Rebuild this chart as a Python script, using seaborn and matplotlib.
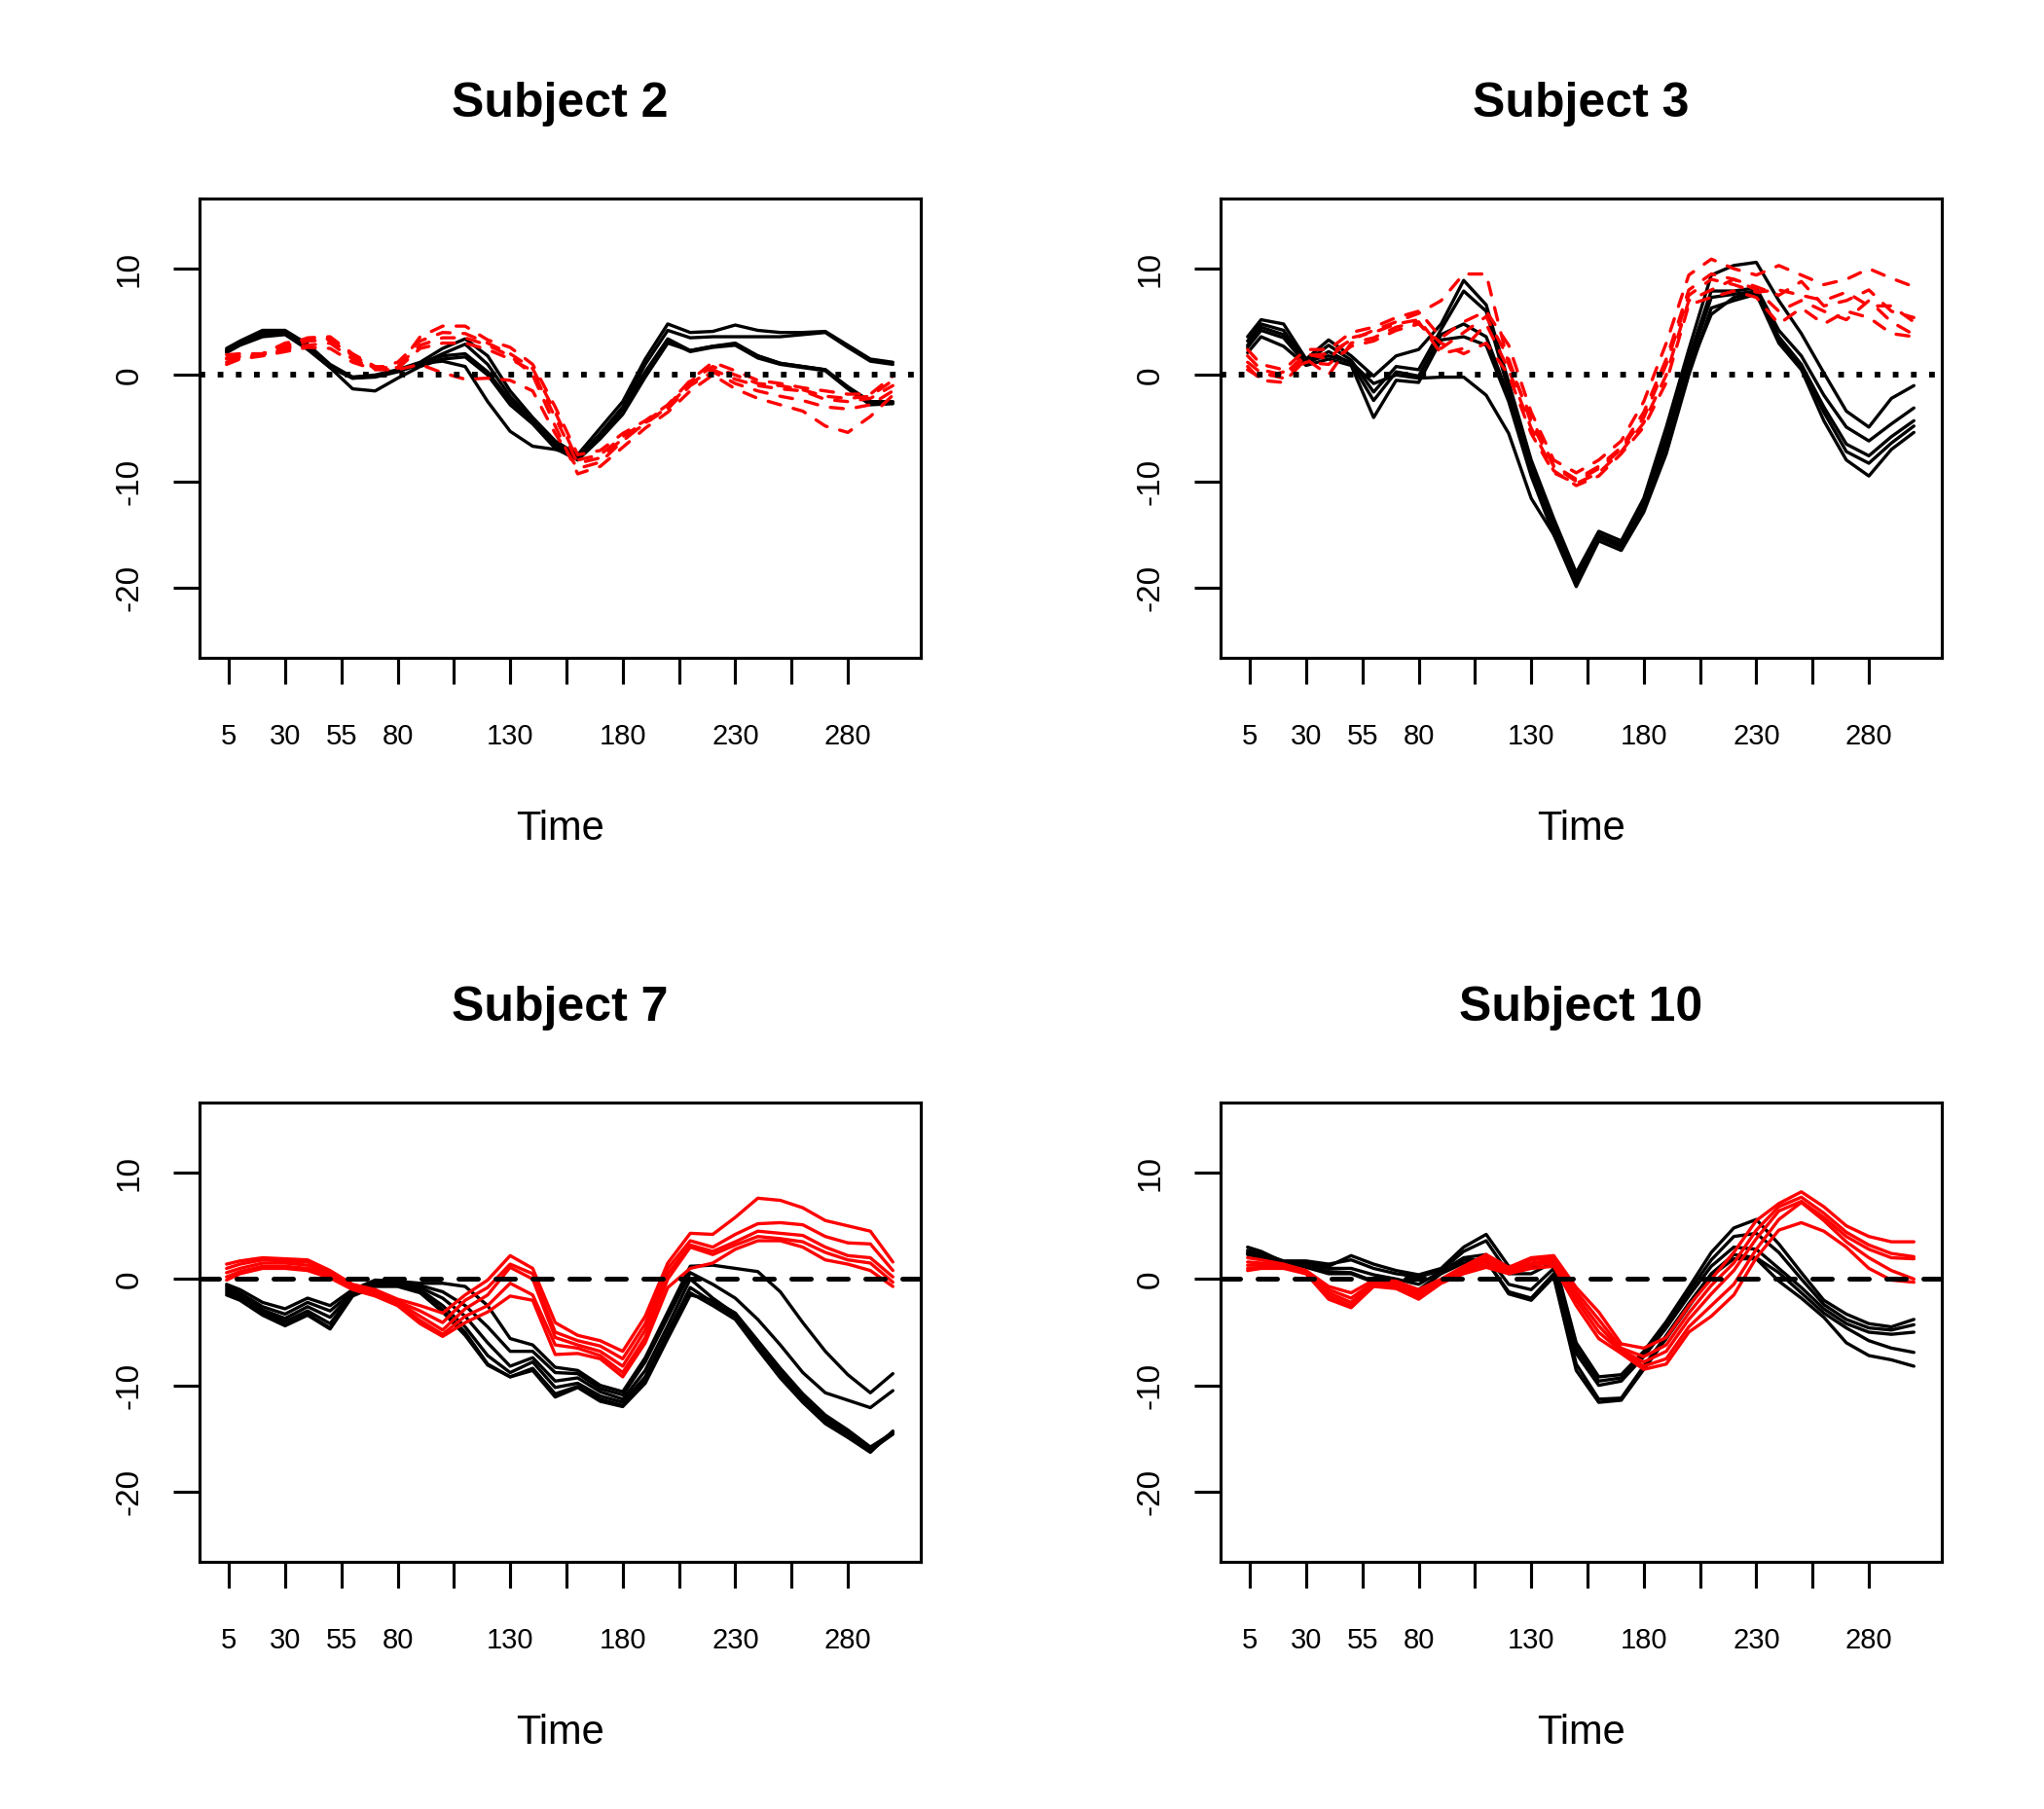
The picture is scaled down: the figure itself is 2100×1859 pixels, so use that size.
import matplotlib
matplotlib.use('Agg')
import matplotlib.pyplot as plt
import seaborn as sns
import pandas as pd

time = [4, 10, 20, 30, 40, 50, 60, 70, 80, 90, 100, 110, 120, 130, 140, 150,
        160, 170, 180, 190, 200, 210, 220, 230, 240, 250, 260, 270, 280, 290, 300]

s2_black = [
    [2.5, 3.2, 4.2, 4.2, 2.9, 1.0, -0.2, 0.0, 0.5, 1.2, 2.5, 3.4, 1.8, -1.5, -4.0, -6.2, -7.5, -5.0, -2.5, 1.5, 4.8, 4.0, 4.1, 4.7, 4.2, 4.0, 4.0, 4.1, 2.8, 1.5, 1.2],
    [2.3, 3.0, 4.0, 4.1, 2.7, 0.9, -0.3, -0.1, 0.4, 1.0, 2.0, 2.9, 1.0, -2.0, -4.3, -6.5, -7.8, -5.5, -3.0, 1.0, 4.2, 3.5, 3.6, 3.6, 3.6, 3.6, 3.8, 4.0, 2.6, 1.3, 1.0],
    [2.1, 2.8, 3.6, 3.8, 2.4, 0.7, -1.3, -1.5, -0.3, 0.8, 1.5, 1.7, 0.0, -2.8, -4.6, -6.9, -8.0, -6.0, -3.7, -0.2, 3.0, 2.3, 2.7, 3.0, 1.8, 1.1, 0.8, 0.5, -1.2, -2.6, -2.6],
    [2.3, 3.0, 4.0, 4.0, 2.6, 0.8, -0.2, -0.1, 0.4, 1.1, 1.3, 0.8, -2.5, -5.3, -6.7, -7.0, -7.6, -5.8, -3.2, 0.3, 3.4, 2.3, 2.7, 2.9, 1.8, 1.1, 0.8, 0.5, -1.1, -2.5, -2.5],
    [2.2, 2.9, 3.8, 3.9, 2.5, 0.7, -0.3, -0.2, 0.3, 1.0, 1.8, 2.0, 0.3, -2.4, -4.4, -6.7, -7.9, -5.8, -3.4, 0.2, 3.2, 2.2, 2.6, 2.8, 1.6, 1.0, 0.7, 0.4, -1.3, -2.8, -2.7],
]
s2_red = [
    [1.9, 2.0, 2.0, 2.7, 3.5, 3.6, 2.0, 0.8, 0.7, 3.6, 4.6, 4.6, 3.3, 2.6, 1.0, -3.0, -7.5, -7.1, -5.5, -4.3, -2.8, -0.5, 1.2, 0.4, -0.5, -0.8, -1.2, -1.5, -1.8, -1.8, -0.1],
    [1.2, 1.6, 1.9, 2.4, 2.8, 3.0, 1.5, 0.6, 0.8, 2.8, 3.5, 3.5, 2.8, 1.8, 0.0, -4.8, -9.3, -8.6, -6.8, -5.0, -3.5, -1.5, 0.0, -1.3, -2.2, -2.8, -3.4, -4.8, -5.4, -3.9, -1.9],
    [1.6, 1.8, 1.9, 2.5, 3.2, 3.3, 1.8, 0.7, 0.6, 2.5, 3.0, 3.0, 2.4, 1.5, 0.4, -4.0, -8.3, -7.8, -6.0, -4.6, -3.0, -0.8, 0.5, -0.4, -1.0, -1.3, -1.5, -2.3, -2.5, -2.2, -1.0],
    [1.0, 1.5, 1.8, 2.2, 2.6, 2.5, 1.2, 0.5, 0.5, 1.0, 0.2, -0.4, -0.3, -0.5, -1.5, -5.5, -8.8, -8.2, -6.2, -4.5, -3.2, -1.0, 0.3, -0.8, -1.5, -2.0, -2.4, -3.0, -3.2, -2.8, -1.5],
    [1.5, 1.7, 2.0, 3.0, 3.4, 3.4, 1.9, 0.6, 1.2, 3.2, 4.0, 3.9, 3.0, 2.0, 0.6, -3.5, -8.0, -7.5, -5.8, -4.4, -2.9, -0.6, 0.8, 0.0, -0.8, -1.0, -1.4, -2.0, -2.2, -2.0, -0.5],
]

s3_black = [
    [3.6, 5.2, 4.8, 1.5, 3.3, 1.8, -0.1, 1.8, 2.4, 4.8, 8.9, 6.6, -0.7, -8.0, -13.5, -18.6, -14.7, -15.6, -11.6, -4.9, 2.4, 9.4, 10.3, 10.6, 7.0, 3.9, 0.2, -3.4, -4.9, -2.2, -1.0],
    [3.2, 4.8, 4.2, 1.2, 2.8, 1.4, -1.6, 0.8, 0.5, 4.3, 7.9, 6.0, -1.5, -8.5, -14.0, -19.0, -15.0, -15.9, -12.0, -5.8, 1.6, 7.9, 7.9, 8.2, 4.2, 1.8, -1.9, -4.9, -6.2, -4.6, -3.1],
    [2.6, 4.2, 3.5, 1.0, 2.2, 1.1, -2.4, 0.3, -0.1, 3.8, 4.8, 3.6, -2.0, -9.0, -14.5, -19.5, -15.3, -16.2, -12.5, -6.6, 0.8, 7.3, 7.6, 7.9, 3.6, 1.0, -3.0, -6.5, -7.6, -5.8, -4.3],
    [2.1, 3.6, 2.7, 0.9, 1.5, 0.9, -4.0, -0.5, -0.7, 3.3, 3.6, 2.8, -2.5, -9.5, -15.0, -19.9, -15.6, -16.5, -12.9, -7.4, 0.0, 6.3, 7.0, 7.6, 3.0, 0.5, -4.3, -8.0, -9.5, -7.0, -5.4],
    [2.8, 4.5, 3.8, 1.3, 1.8, 1.2, -0.8, 0.0, -0.3, -0.2, -0.2, -1.9, -5.5, -11.6, -15.0, -18.8, -15.2, -16.0, -12.2, -6.0, 0.5, 5.7, 7.3, 7.8, 3.3, 0.8, -3.5, -7.2, -8.3, -6.4, -4.8],
]
s3_red = [
    [1.2, 0.2, -0.3, 1.8, 2.0, 3.3, 4.2, 5.0, 5.8, 7.0, 9.5, 9.5, 1.0, -4.0, -8.5, -9.8, -8.6, -6.8, -3.5, 1.5, 8.0, 9.5, 9.0, 8.3, 7.5, 8.8, 6.5, 7.0, 8.0, 6.0, 5.4],
    [2.4, 1.0, 0.5, 2.4, 2.4, 4.0, 4.5, 5.4, 6.0, 3.5, 5.0, 6.0, 2.8, -3.5, -8.0, -9.2, -8.0, -6.2, -2.5, 3.0, 9.4, 10.9, 10.0, 9.4, 10.3, 9.4, 8.5, 9.0, 10.0, 9.1, 8.3],
    [1.8, 0.5, 0.0, 2.0, 1.5, 3.5, 4.0, 4.8, 5.2, 2.5, 4.0, 5.5, 1.5, -4.5, -8.6, -10.0, -8.8, -7.0, -4.0, 1.0, 7.5, 9.0, 8.5, 7.8, 8.0, 7.5, 7.0, 7.8, 6.5, 6.5, 5.0],
    [0.8, -0.5, -0.7, 1.5, 0.0, 3.0, 3.5, 4.5, 5.0, 2.0, 2.5, 4.8, 0.5, -5.0, -9.0, -10.4, -9.5, -7.4, -4.9, -0.7, 6.6, 7.3, 7.9, 7.3, 4.8, 6.3, 4.8, 6.0, 5.4, 3.9, 3.6],
    [0.5, -0.3, 0.3, 1.2, 1.0, 2.7, 3.2, 4.2, 4.8, 3.0, 2.0, 3.0, 0.0, -5.5, -9.2, -10.2, -9.2, -7.2, -4.5, 0.0, 7.0, 8.0, 9.0, 8.0, 6.0, 7.0, 6.0, 5.2, 7.0, 5.0, 3.8],
]

s7_black = [
    [-0.5, -1.0, -2.2, -2.8, -1.8, -2.5, -1.0, -0.1, -0.2, -0.4, -0.4, -0.7, -2.5, -5.6, -6.2, -8.3, -8.6, -10.0, -10.6, -7.4, -3.1, 1.2, 1.3, 1.0, 0.7, -1.2, -4.1, -6.8, -9.0, -10.7, -8.9],
    [-0.7, -1.3, -2.6, -3.3, -2.2, -3.0, -1.2, -0.2, -0.3, -0.6, -1.2, -2.5, -4.5, -6.8, -6.8, -8.8, -8.9, -10.3, -10.9, -7.8, -3.6, 0.6, -0.5, -1.8, -3.8, -6.2, -8.8, -10.7, -11.4, -12.1, -10.5],
    [-0.9, -1.5, -2.9, -3.7, -2.6, -3.6, -1.3, -0.3, -0.4, -0.8, -1.8, -3.5, -6.0, -8.2, -7.4, -9.6, -9.3, -10.6, -11.3, -8.6, -4.4, 0.0, -1.8, -3.3, -6.0, -8.7, -11.0, -13.0, -14.4, -15.9, -14.4],
    [-1.1, -1.6, -3.1, -4.0, -3.0, -4.2, -1.4, -0.4, -0.5, -1.0, -2.5, -4.5, -7.2, -8.8, -7.8, -10.2, -9.8, -11.0, -11.6, -9.2, -5.0, -0.8, -2.2, -3.5, -6.3, -9.0, -11.3, -13.3, -14.6, -16.1, -14.6],
    [-1.3, -1.8, -3.3, -4.3, -3.3, -4.6, -1.5, -0.5, -0.6, -1.1, -2.9, -5.0, -8.0, -9.2, -8.4, -10.8, -10.1, -11.3, -11.9, -9.6, -5.4, -1.3, -2.5, -3.8, -6.6, -9.3, -11.6, -13.6, -14.9, -16.3, -14.3],
    [-1.5, -2.0, -3.4, -4.4, -3.4, -4.7, -1.6, -0.7, -0.7, -1.3, -3.1, -5.3, -8.1, -9.2, -8.6, -11.1, -10.2, -11.5, -12.0, -9.8, -5.6, -1.5, -2.0, -3.2, -5.8, -8.4, -10.8, -12.8, -14.2, -15.8, -14.5],
]
s7_red = [
    [1.4, 1.7, 2.0, 1.9, 1.8, 0.8, -0.5, -1.0, -1.9, -2.5, -3.2, -1.5, -0.1, 2.2, 1.0, -4.1, -5.3, -5.8, -6.8, -3.5, 1.5, 4.3, 4.2, 5.8, 7.6, 7.4, 6.7, 5.5, 5.0, 4.5, 1.6],
    [1.0, 1.4, 1.8, 1.7, 1.6, 0.6, -0.6, -1.2, -2.1, -3.0, -4.1, -2.0, -0.8, 1.4, 0.5, -5.0, -5.8, -6.3, -7.5, -4.2, 1.0, 3.6, 3.0, 4.2, 5.2, 5.3, 5.1, 4.0, 3.4, 3.3, 0.8],
    [0.6, 1.0, 1.5, 1.5, 1.3, 0.4, -0.7, -1.3, -2.2, -3.5, -4.8, -2.8, -1.5, 1.1, 0.0, -5.5, -6.2, -6.8, -8.2, -4.8, 0.5, 3.2, 2.6, 3.5, 4.5, 4.3, 4.1, 3.0, 2.2, 2.0, 0.2],
    [0.2, 0.7, 1.2, 1.2, 1.0, 0.2, -0.9, -1.5, -2.4, -3.9, -5.2, -3.5, -2.5, -0.4, -1.5, -6.2, -6.5, -7.2, -8.8, -5.5, 0.0, 3.0, 2.3, 3.2, 4.0, 3.8, 3.5, 2.5, 1.8, 1.5, -0.3],
    [-0.1, 0.5, 1.0, 1.0, 0.8, 0.1, -1.0, -1.6, -2.5, -4.2, -5.4, -4.1, -3.1, -1.6, -2.0, -7.1, -7.0, -7.5, -9.2, -6.0, -0.8, 1.0, 1.5, 2.8, 3.6, 3.6, 3.0, 1.8, 1.4, 0.8, -0.7],
]

s10_black = [
    [3.0, 2.6, 1.6, 1.5, 1.2, 2.2, 1.4, 0.8, 0.4, 1.0, 3.0, 4.2, 1.2, 1.0, 2.0, -6.0, -9.2, -9.0, -6.8, -4.0, -0.8, 2.5, 4.8, 5.6, 3.3, 0.6, -2.0, -3.3, -4.2, -4.5, -3.8],
    [2.7, 2.4, 1.7, 1.7, 1.4, 1.8, 1.0, 0.5, 0.2, 0.8, 2.6, 3.6, 0.5, 0.5, 1.6, -6.5, -9.6, -9.3, -7.0, -4.3, -1.2, 1.8, 4.0, 4.3, 2.5, 0.0, -2.4, -3.8, -4.6, -4.8, -4.3],
    [2.5, 2.2, 1.5, 1.3, 1.0, 1.0, 0.4, 0.0, -0.5, 0.7, 2.0, 2.3, -0.5, -1.0, 1.0, -7.0, -10.0, -9.6, -7.3, -4.6, -1.6, 1.2, 3.0, 2.8, 1.0, -0.8, -2.8, -4.2, -5.0, -5.2, -5.0],
    [2.3, 2.0, 1.5, 1.2, 0.7, 0.6, -0.2, -0.6, -1.0, 0.5, 1.5, 1.7, -1.2, -1.8, 0.5, -8.0, -11.3, -11.2, -8.2, -5.3, -2.3, 0.5, 2.3, 2.0, 0.6, -1.3, -3.2, -4.6, -5.8, -6.5, -6.9],
    [2.4, 2.1, 1.6, 1.1, 0.5, 0.5, -0.3, -0.8, -1.3, 0.6, 1.8, 1.8, -1.4, -2.0, 0.2, -8.6, -11.6, -11.4, -8.5, -5.6, -2.6, 0.3, 1.9, 1.9, -0.2, -1.8, -3.6, -6.0, -7.2, -7.6, -8.2],
]
s10_red = [
    [2.0, 1.8, 1.4, 0.8, -0.7, -1.3, -0.1, -0.2, -1.0, 0.0, 1.2, 2.3, 1.1, 2.0, 2.2, -0.8, -3.1, -6.1, -6.5, -5.5, -2.5, 0.0, 2.5, 5.5, 7.1, 8.2, 6.8, 5.0, 4.0, 3.5, 3.5],
    [1.6, 1.5, 1.3, 0.7, -1.0, -1.8, -0.3, -0.4, -1.3, -0.1, 1.0, 2.0, 0.9, 1.8, 2.0, -1.2, -3.8, -6.5, -7.3, -6.2, -3.2, -0.6, 1.5, 4.6, 6.8, 7.7, 6.2, 4.4, 3.2, 2.4, 2.1],
    [1.3, 1.3, 1.2, 0.6, -1.3, -2.2, -0.4, -0.5, -1.5, -0.2, 0.8, 1.7, 0.8, 1.5, 1.8, -1.6, -4.4, -6.7, -7.8, -6.8, -3.8, -1.4, 0.8, 3.8, 6.4, 7.3, 5.8, 4.0, 2.8, 2.0, 1.9],
    [1.0, 1.1, 1.1, 0.5, -1.6, -2.5, -0.5, -0.7, -1.7, -0.3, 0.6, 1.4, 0.6, 1.3, 1.5, -2.0, -5.0, -6.8, -8.2, -7.5, -4.5, -2.5, -0.5, 2.8, 5.6, 7.2, 5.5, 3.5, 2.0, 0.8, 0.0],
    [0.8, 1.0, 1.0, 0.5, -1.9, -2.7, -0.7, -0.9, -1.9, -0.4, 0.5, 1.1, 0.5, 1.0, 1.2, -2.5, -5.6, -7.0, -8.5, -8.0, -5.0, -3.5, -1.5, 2.0, 4.6, 5.3, 4.5, 3.0, 1.0, -0.1, -0.3],
]

titles = ['Subject 2', 'Subject 3', 'Subject 7', 'Subject 10']
xtick_pos = [5, 30, 55, 80, 105, 130, 155, 180, 205, 230, 255, 280]
xtick_lab = ['5', '30', '55', '80', '', '130', '', '180', '', '230', '', '280']
ytick_pos = [-20, -10, 0, 10]
ytick_lab = ['-20', '-10', '0', '10']


def long_frame(black, red):
    rows = []
    for i, ys in enumerate(black):
        for t, y in zip(time, ys):
            rows.append((t, y, f'b{i}', 'ctrl'))
    for i, ys in enumerate(red):
        for t, y in zip(time, ys):
            rows.append((t, y, f'r{i}', 'trt'))
    return pd.DataFrame(rows, columns=['time', 'value', 'curve', 'group'])


sns.set_theme(style='white', rc={'text.color': 'black',
                                 'axes.labelcolor': 'black',
                                 'xtick.color': 'black',
                                 'ytick.color': 'black',
                                 'axes.edgecolor': 'black'})
plt.rcParams['font.family'] = ['Liberation Sans', 'DejaVu Sans']

fig = plt.figure(figsize=(7, 1859 / 300))

W, H = 2100, 1859
ax_w, ax_h = 741 / W, 472 / H
lefts = [205 / W, 1254 / W]
bottoms = [1 - 676 / H, 1 - 1605 / H]

panels = [
    (titles[0], s2_black, s2_red, True, lefts[0], bottoms[0]),
    (titles[1], s3_black, s3_red, True, lefts[1], bottoms[0]),
    (titles[2], s7_black, s7_red, False, lefts[0], bottoms[1]),
    (titles[3], s10_black, s10_red, False, lefts[1], bottoms[1]),
]

for title, black, red, top_row, left, bottom in panels:
    ax = fig.add_axes([left, bottom, ax_w, ax_h])
    df = long_frame(black, red)
    red_dash = (4, 4) if top_row else ''
    sns.lineplot(data=df, x='time', y='value', hue='group', style='group',
                 units='curve', estimator=None, hue_order=['ctrl', 'trt'],
                 style_order=['ctrl', 'trt'],
                 palette={'ctrl': 'black', 'trt': 'red'},
                 dashes={'ctrl': '', 'trt': red_dash},
                 lw=0.8, legend=False, ax=ax, dash_capstyle='round')

    # reference line at zero
    if top_row:
        ax.axhline(0, color='black', lw=1.4, linestyle=(0, (1, 2.2)))
    else:
        ax.axhline(0, color='black', lw=1.2, linestyle=(0, (4, 3.6)),
                   dash_capstyle='round')

    ax.set_xlim(-8, 312.4)
    ax.set_ylim(-26.6, 16.6)
    ax.set_xlabel('')
    ax.set_ylabel('')
    for sp in ax.spines.values():
        sp.set_visible(True)
        sp.set_color('black')
        sp.set_linewidth(0.75)

    ax.set_xticks(xtick_pos)
    ax.set_xticklabels(xtick_lab, fontsize=7)
    ax.set_yticks(ytick_pos)
    ax.set_yticklabels(ytick_lab, fontsize=8, rotation=90, va='center')
    ax.tick_params(axis='x', bottom=True, direction='out', length=6.5,
                   width=0.75, color='black', pad=9.5)
    ax.tick_params(axis='y', left=True, direction='out', length=6.5,
                   width=0.75, color='black', pad=7)

    ax.text(0.5, 1 + 97 / 472, title, transform=ax.transAxes,
            ha='center', va='center', fontsize=12, fontweight='bold')
    ax.text(0.5, -176 / 472, 'Time', transform=ax.transAxes,
            ha='center', va='center', fontsize=10)

fig.savefig('out.png', dpi=300)
plt.close(fig)
